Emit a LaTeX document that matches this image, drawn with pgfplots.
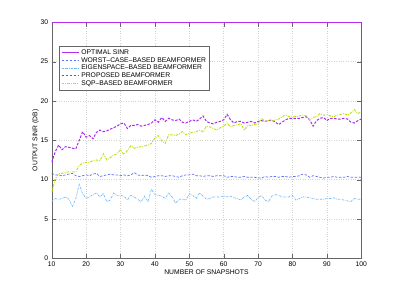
\documentclass[border=0pt]{standalone}
\usepackage{pgfplots}
\pgfplotsset{compat=1.18}
\usepackage{fontspec}
\setmainfont{Liberation Sans}
\definecolor{optc}{RGB}{185,45,240}
\definecolor{wcc}{RGB}{95,115,245}
\definecolor{eigc}{RGB}{110,185,250}
\definecolor{propc}{RGB}{170,40,240}
\definecolor{sqpc}{RGB}{195,225,20}
\begin{document}
\begin{tikzpicture}
\path[use as bounding box] (-51.7bp,-32.7bp) rectangle (348.3bp,258.3bp);
\begin{axis}[
  scale only axis, width=309.6bp, height=236bp,
  xmin=10, xmax=100, ymin=0, ymax=30,
  xtick={10,20,...,100}, ytick={0,5,...,30},
  grid=major, major grid style={gray!35, dotted},
  axis line style={gray!80!black},
  tick align=inside, tick style={gray!80!black},
  tick label style={font=\fontsize{6.8}{7}\selectfont},
  /pgf/number format/assume math mode=true,
  xlabel={NUMBER OF SNAPSHOTS}, ylabel={OUTPUT SINR (DB)},
  label style={font=\fontsize{6.8}{7}\selectfont},
  xlabel style={yshift=4pt},
  ylabel style={yshift=-5pt},
  legend style={at={(0.025,0.90)}, anchor=north west, draw=gray!80!black, fill=white,
    font=\fontsize{6.8}{7}\selectfont, row sep=-2.5pt, inner sep=1.5pt},
  legend cell align=left,
]
\addplot[optc, line width=1.2pt] coordinates {(10,30) (100,30)};
\addlegendentry{OPTIMAL SINR}
\addplot[wcc, line width=0.7pt, dash pattern=on 2.5pt off 1.5pt] coordinates {
(10,10.8)(11,10.6)(12,10.6)(13,10.5)(14,10.6)(15,10.7)(16,10.8)(17,10.5)(18,10.4)(19,10.5)
(20,10.6)(21,10.5)(22,10.7)(23,10.8)(24,10.4)(25,10.5)(26,10.6)(27,10.7)(28,10.6)(29,10.6)
(30,10.5)(31,10.6)(32,10.5)(33,10.6)(34,10.9)(35,10.6)(36,10.5)(37,10.6)(38,10.5)(39,10.3)
(40,10.4)(41,10.5)(42,10.5)(43,10.4)(44,10.5)(45,10.5)(46,10.4)(47,10.3)(48,10.5)(49,10.6)
(50,10.6)(51,10.7)(52,10.5)(53,10.5)(54,10.4)(55,10.5)(56,10.5)(57,10.4)(58,10.5)(59,10.5)
(60,10.5)(61,10.3)(62,10.4)(63,10.4)(64,10.3)(65,10.3)(66,10.4)(67,10.3)(68,10.3)(69,10.3)
(70,10.2)(71,10.2)(72,10.4)(73,10.3)(74,10.4)(75,10.4)(76,10.3)(77,10.4)(78,10.4)(79,10.3)
(80,10.4)(81,10.4)(82,10.5)(83,10.7)(84,10.6)(85,10.3)(86,10.5)(87,10.4)(88,10.3)(89,10.2)
(90,10.3)(91,10.3)(92,10.4)(93,10.3)(94,10.3)(95,10.3)(96,10.4)(97,10.3)(98,10.3)(99,10.3)(100,10.3)};
\addlegendentry{WORST--CASE--BASED BEAMFORMER}
\addplot[eigc, line width=0.7pt, dash pattern=on 2pt off 1pt on 0.5pt off 1pt] coordinates {
(10,7.2)(11,7.6)(12,7.5)(13,7.6)(14,7.8)(15,7.5)(16,6.6)(17,7.6)(18,9.4)(19,8.2)
(20,7.6)(21,7.8)(22,8.1)(23,8.3)(24,7.8)(25,8.2)(26,7.2)(27,7.4)(28,8.3)(29,8.0)
(30,8.0)(31,7.9)(32,7.4)(33,8.0)(34,7.8)(35,7.5)(36,7.2)(37,7.9)(38,7.2)(39,8.8)
(40,8.1)(41,8.0)(42,7.9)(43,7.6)(44,8.3)(45,7.8)(46,7.0)(47,7.5)(48,7.5)(49,7.4)
(50,8.2)(51,8.0)(52,7.6)(53,8.3)(54,7.9)(55,7.5)(56,7.6)(57,7.8)(58,7.8)(59,7.8)
(60,7.9)(61,7.8)(62,7.9)(63,7.7)(64,7.6)(65,7.4)(66,7.8)(67,8.0)(68,7.5)(69,7.2)
(70,7.7)(71,8.0)(72,7.4)(73,7.2)(74,7.9)(75,8.1)(76,8.0)(77,7.8)(78,7.8)(79,7.8)
(80,8.0)(81,7.4)(82,7.6)(83,7.8)(84,7.8)(85,7.7)(86,7.6)(87,7.5)(88,7.5)(89,7.5)
(90,7.6)(91,7.6)(92,7.7)(93,7.5)(94,7.5)(95,7.4)(96,7.3)(97,7.2)(98,7.6)(99,7.5)(100,7.5)};
\addlegendentry{EIGENSPACE--BASED BEAMFORMER}
\addplot[propc, line width=1pt, dash pattern=on 2.5pt off 1.5pt] coordinates {
(10,12.2)(11,13.5)(12,14.4)(13,13.8)(14,14.2)(15,14.1)(16,14.0)(17,13.9)(18,15.0)(19,16.1)
(20,15.4)(21,15.6)(22,15.2)(23,16.0)(24,16.3)(25,16.1)(26,16.2)(27,16.4)(28,16.6)(29,16.8)
(30,17.1)(31,17.2)(32,16.5)(33,16.9)(34,16.9)(35,17.0)(36,16.8)(37,16.9)(38,17.0)(39,17.2)
(40,17.6)(41,17.3)(42,17.9)(43,17.4)(44,17.8)(45,17.6)(46,17.5)(47,17.7)(48,17.3)(49,17.2)
(50,17.4)(51,17.6)(52,17.4)(53,17.7)(54,18.1)(55,17.4)(56,17.2)(57,17.1)(58,17.3)(59,17.4)
(60,17.6)(61,18.3)(62,17.6)(63,17.2)(64,17.4)(65,17.4)(66,17.2)(67,17.3)(68,17.4)(69,17.2)
(70,17.4)(71,17.5)(72,17.4)(73,17.5)(74,17.6)(75,17.3)(76,17.0)(77,17.3)(78,17.6)(79,17.8)
(80,17.8)(81,17.8)(82,17.8)(83,17.9)(84,18.0)(85,17.6)(86,16.8)(87,17.5)(88,17.8)(89,17.9)
(90,17.5)(91,17.8)(92,17.8)(93,17.7)(94,17.7)(95,17.8)(96,17.7)(97,17.3)(98,17.2)(99,17.5)(100,17.7)};
\addlegendentry{PROPOSED BEAMFORMER}
\addplot[sqpc, line width=1pt, dash pattern=on 2.5pt off 1.2pt on 0.8pt off 1.2pt] coordinates {
(10,8.4)(11,10.0)(12,10.8)(13,10.8)(14,10.9)(15,11.0)(16,11.0)(17,11.0)(18,11.8)(19,12.1)
(20,12.2)(21,12.2)(22,12.4)(23,12.5)(24,12.4)(25,13.3)(26,12.5)(27,12.8)(28,13.1)(29,13.3)
(30,13.8)(31,13.2)(32,13.7)(33,14.3)(34,14.0)(35,14.1)(36,14.2)(37,14.3)(38,14.4)(39,14.6)
(40,15.3)(41,15.6)(42,14.9)(43,14.6)(44,15.7)(45,15.7)(46,15.6)(47,15.8)(48,16.1)(49,15.7)
(50,15.9)(51,16.0)(52,16.1)(53,16.3)(54,16.1)(55,16.8)(56,16.7)(57,16.5)(58,16.3)(59,16.6)
(60,16.8)(61,17.2)(62,16.7)(63,16.9)(64,17.0)(65,17.1)(66,16.3)(67,16.9)(68,16.9)(69,17.0)
(70,17.1)(71,17.8)(72,17.4)(73,17.5)(74,17.4)(75,17.6)(76,17.7)(77,18.0)(78,18.2)(79,18.0)
(80,18.0)(81,18.0)(82,18.1)(83,18.2)(84,18.1)(85,17.6)(86,17.9)(87,18.0)(88,18.4)(89,18.2)
(90,18.2)(91,18.1)(92,18.0)(93,18.2)(94,18.3)(95,18.4)(96,18.2)(97,18.5)(98,18.9)(99,18.4)(100,18.6)};
\addlegendentry{SQP--BASED BEAMFORMER}
\end{axis}
\end{tikzpicture}
\end{document}
